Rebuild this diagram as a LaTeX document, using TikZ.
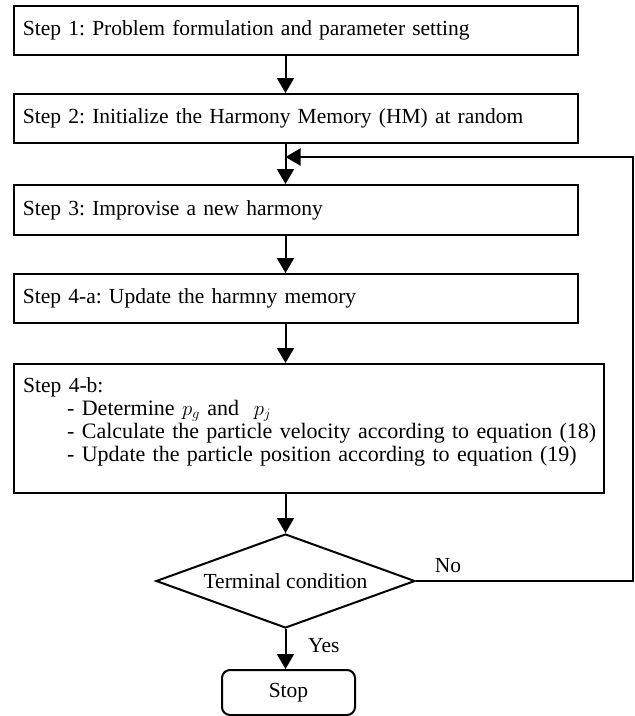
\documentclass[tikz,border=0pt]{standalone}
\usepackage{fontspec}
\setmainfont{Liberation Serif}
\usetikzlibrary{shapes.geometric,arrows.meta}
\newcommand{\bulletsize}{\fontsize{22}{23}\selectfont}
\begin{document}
\frenchspacing
\begin{tikzpicture}[x=1pt,y=-1pt,
  font=\fontsize{21.5}{23}\selectfont,
  stepbox/.style={draw, line width=2pt, rectangle, inner sep=0pt,
    minimum width=564pt, minimum height=49pt, text width=546pt, align=left},
  decision/.style={draw, line width=2pt, diamond, inner sep=0pt, aspect=2.76,
    minimum width=259pt, minimum height=94pt},
  stopbox/.style={draw, line width=2pt, rectangle, rounded corners=8pt,
    minimum width=133pt, minimum height=45pt, inner sep=0pt},
  arr/.style={line width=2pt, -{Triangle[length=15pt,width=17pt]}},
  lbl/.style={inner sep=0pt}
]
\useasboundingbox (0,0) rectangle (635,716);

% process steps
\node[stepbox] (s1) at (296,30) {Step 1: Problem formulation and parameter setting};
\node[stepbox] (s2) at (296,118.5) {Step 2: Initialize the Harmony Memory (HM) at random};
\node[stepbox, minimum height=50pt] (s3) at (296,210) {Step 3: Improvise a new harmony};
\node[stepbox] (s4a) at (296,298.5) {Step 4-a: Update the harmny memory};
\node[draw, line width=2pt, rectangle, inner sep=0pt,
      minimum width=590pt, minimum height=129pt] (s4b) at (309,428.5) {};
\node[lbl, anchor=north west, text width=605pt, align=left,
      font=\bulletsize] (s4bt) at (23,377)
  {{\fontsize{21.5}{23}\selectfont Step 4-b:}\\
   \hspace*{44pt}- Determine $p_g$ and \ $p_j$\\
   \hspace*{44pt}- Calculate the particle velocity according to equation (18)\\
   \hspace*{44pt}- Update the particle position according to equation (19)};

% decision and end
\node[decision] (d) at (285.5,581) {Terminal condition};
\node[stopbox] (stop) at (288.5,692.5) {Stop};

% loop-back corner points
\coordinate (loopin) at (285.5,157);
\coordinate (rt) at (633,157);

% connectors
\draw[arr] (s1.south -| d) -- (s2.north -| d);
\draw[arr] (s2.south -| d) -- (s3.north -| d);
\draw[arr] (s3.south -| d) -- (s4a.north -| d);
\draw[arr] (s4a.south -| d) -- (s4b.north -| d);
\draw[arr] (s4b.south -| d) -- (d.north);
\draw[arr] (d.south) -- (stop.north -| d);
\draw[arr] (d.east) -- (d.east -| rt) -- (rt) -- (loopin);

% branch labels
\node[lbl, anchor=west] (yes) at (308,646) {Yes};
\node[lbl] (no) at (448,566) {No};
\end{tikzpicture}
\end{document}
